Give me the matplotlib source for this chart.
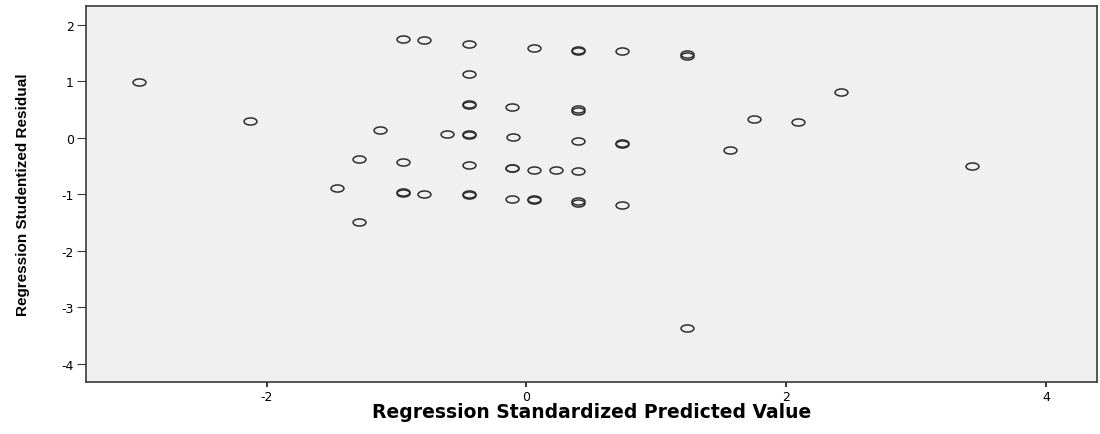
import numpy as np
import matplotlib
matplotlib.use("Agg")
import matplotlib.pyplot as plt
from matplotlib.path import Path

# ============================================================
# DATA: standardized predicted value vs studentized residual
# ============================================================
pred_std = [
    -2.98, -2.13, -1.13, -1.29, -1.46, -1.29,
    -0.95, -0.79, -0.445, 0.06, 0.40, 0.40, 0.735, 1.24, 1.24,
    -0.445, -0.445, -0.445, -0.11, 0.40, 0.40,
    -0.61, -0.445, -0.445, -0.10, 0.40, 0.735, 0.735,
    1.57, 1.75, 2.09, 2.42,
    -0.95, -0.445, -0.11, -0.11, 0.06, 0.23, 0.40, 3.43,
    -0.95, -0.95, -0.79, -0.445, -0.445, -0.11, 0.06, 0.06, 0.40, 0.40, 0.735,
    1.24,
]
resid_stud = [
    0.99, 0.29, 0.14, -0.38, -0.90, -1.49,
    1.74, 1.72, 1.65, 1.59, 1.545, 1.53, 1.53, 1.48, 1.45,
    1.12, 0.595, 0.575, 0.55, 0.51, 0.47,
    0.065, 0.06, 0.04, 0.01, -0.06, -0.10, -0.115,
    -0.22, 0.33, 0.27, 0.81,
    -0.43, -0.48, -0.53, -0.545, -0.58, -0.57, -0.59, -0.50,
    -0.965, -0.98, -1.00, -1.005, -1.02, -1.08, -1.085, -1.10, -1.115, -1.155, -1.19,
    -3.37,
]

x_ticks = [-2, 0, 2, 4]
y_ticks = [2, 1, 0, -1, -2, -3, -4]

plt.rcParams['axes.unicode_minus'] = False

# open elliptical marker (wider than tall)
circ = Path.unit_circle()
ellipse = Path(circ.vertices * np.array([1.0, 0.55]), circ.codes)

fig = plt.figure(figsize=(11, 4.35), dpi=100)
ax = fig.add_axes([0.0782, 0.119, 0.9188, 0.8650])
ax.set_facecolor('#f0f0f0')

ax.plot(pred_std, resid_stud, linestyle='none', marker=ellipse,
        markersize=9.3, markerfacecolor='none', markeredgecolor='#2e2e2e',
        markeredgewidth=1.1)

ax.set_xlim(-3.39, 4.39)
ax.set_ylim(-4.33, 2.33)
ax.set_xticks(x_ticks)
ax.set_yticks(y_ticks)

for side in ['left', 'right', 'top', 'bottom']:
    ax.spines[side].set_color('#3a3a3a')
    ax.spines[side].set_linewidth(1.2)

ax.tick_params(axis='x', direction='out', length=3.8, width=1.4,
               color='#3a3a3a', pad=2, labelsize=9)
ax.tick_params(axis='y', direction='out', length=6.8, width=0.8,
               color='#3a3a3a', pad=2, labelsize=9)

ax.set_xlabel("Regression Standardized Predicted Value", fontsize=13.5,
              fontweight='bold', va='center')
ax.xaxis.set_label_coords(0.5, -0.078)

ax.set_ylabel("Regression Studentized Residual", fontsize=11,
              fontweight='bold', va='center',
              family=['Liberation Sans Narrow', 'Liberation Sans', 'DejaVu Sans'])
ax.yaxis.set_label_coords(-0.0623, 0.5)

fig.savefig("out.png", dpi=100)
